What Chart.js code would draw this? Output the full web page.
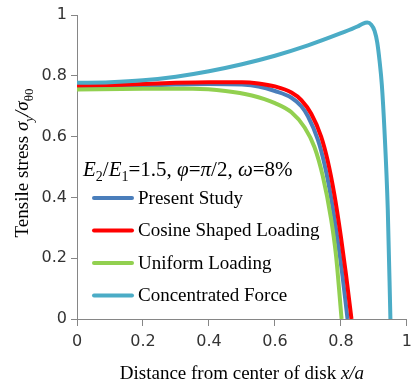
<!DOCTYPE html>
<html lang="en">
<head>
<meta charset="UTF-8" />
<title>Tensile stress vs distance</title>
<style>
  *{margin:0;padding:0;box-sizing:border-box;}
  body{background:#fff;width:418px;height:387px;overflow:hidden;}
  #wrap{position:relative;width:418px;height:387px;}
</style>
</head>
<body>
<div id="wrap"><canvas id="chart"></canvas></div>
<script src="https://cdn.jsdelivr.net/npm/chart.js@4.4.1/dist/chart.umd.min.js"></script>
<script>
/* ---- data ---- */
const seriesLabels = ['Present Study', 'Cosine Shaped Loading', 'Uniform Loading', 'Concentrated Force'];
const seriesColors = ['#4A7EBB', '#FF0000', '#92D050', '#4BACC6'];

const presentX = [0, 0.1, 0.2, 0.3, 0.4, 0.5, 0.55, 0.6, 0.65, 0.68, 0.7, 0.73, 0.75, 0.77, 0.79, 0.805, 0.82];
const presentY = [0.763, 0.765, 0.768, 0.771, 0.773, 0.771, 0.765, 0.75, 0.728, 0.7, 0.667, 0.59, 0.51, 0.4, 0.26, 0.14, 0];

const cosineX = [0, 0.1, 0.2, 0.3, 0.4, 0.5, 0.55, 0.6, 0.65, 0.68, 0.71, 0.74, 0.76, 0.78, 0.8, 0.815, 0.832];
const cosineY = [0.767, 0.77, 0.773, 0.777, 0.779, 0.779, 0.775, 0.765, 0.745, 0.72, 0.675, 0.6, 0.52, 0.41, 0.27, 0.15, 0];

const uniformX = [0, 0.2, 0.35, 0.45, 0.53, 0.6, 0.65, 0.69, 0.72, 0.745, 0.77, 0.785, 0.802];
const uniformY = [0.755, 0.757, 0.757, 0.75, 0.735, 0.71, 0.68, 0.63, 0.565, 0.47, 0.33, 0.21, 0];

const concX = [0, 0.1, 0.2, 0.3, 0.4, 0.5, 0.6, 0.7, 0.8, 0.85, 0.867, 0.88, 0.892, 0.902, 0.91, 0.917, 0.924, 0.932, 0.942, 0.95];
const concY = [0.777, 0.779, 0.785, 0.797, 0.815, 0.838, 0.866, 0.9, 0.94, 0.962, 0.972, 0.975, 0.968, 0.948, 0.91, 0.85, 0.77, 0.62, 0.36, 0];

const xTicks = [0, 0.2, 0.4, 0.6, 0.8, 1];
const yTicks = [0, 0.2, 0.4, 0.6, 0.8, 1];

const pts = (xs, ys) => xs.map((x, i) => ({x, y: ys[i]}));
const allX = [presentX, cosineX, uniformX, concX];
const allY = [presentY, cosineY, uniformY, concY];
const drawOrder = [3, 2, 1, 0]; // later series on top, like the original

const datasets = seriesLabels.map((label, i) => ({
  label,
  data: pts(allX[i], allY[i]),
  borderColor: seriesColors[i],
  backgroundColor: seriesColors[i],
  borderWidth: 4,
  pointRadius: 0,
  cubicInterpolationMode: 'monotone',
  order: drawOrder[i]
}));

/* ---- drawing helpers for mixed italic / subscript text ---- */
const SERIF = 'px "Liberation Serif", "Times New Roman", serif';
function setRunFont(ctx, r, size) {
  const fs = r.sub ? Math.round(size * 0.68) : size;
  ctx.font = (r.it ? 'italic ' : '') + fs + SERIF;
}
function drawRuns(ctx, runs, x, y, size) {
  let cx = x;
  runs.forEach(r => {
    setRunFont(ctx, r, size);
    ctx.fillText(r.t, cx, y + (r.sub ? size * 0.25 : 0));
    cx += ctx.measureText(r.t).width;
  });
  return cx - x;
}
function runsWidth(ctx, runs, size) {
  let w = 0;
  runs.forEach(r => { setRunFont(ctx, r, size); w += ctx.measureText(r.t).width; });
  return w;
}

const yTitleRuns = [
  {t: 'Tensile stress '}, {t: 'σ', it: 1}, {t: 'y', it: 1, sub: 1},
  {t: '/', it: 1}, {t: 'σ', it: 1}, {t: 'θ0', sub: 1}
];
const xTitleRuns = [{t: 'Distance from center of disk '}, {t: 'x/a', it: 1}];
const legendTitleRuns = [
  {t: 'E', it: 1}, {t: '2', sub: 1}, {t: '/'}, {t: 'E', it: 1}, {t: '1', sub: 1},
  {t: '=1.5, '}, {t: 'φ', it: 1}, {t: '='}, {t: 'π', it: 1}, {t: '/2, '},
  {t: 'ω', it: 1}, {t: '=8%'}
];

const extras = {
  id: 'extras',
  afterDraw(chart) {
    const ctx = chart.ctx;
    const area = chart.chartArea;
    ctx.save();
    ctx.fillStyle = '#000';
    ctx.textBaseline = 'alphabetic';
    ctx.textAlign = 'left';

    // x axis title
    const xw = runsWidth(ctx, xTitleRuns, 19);
    drawRuns(ctx, xTitleRuns, (area.left + area.right) / 2 - xw / 2, 379, 19);

    // y axis title, rotated
    const yw = runsWidth(ctx, yTitleRuns, 19);
    ctx.save();
    ctx.translate(28, (area.top + area.bottom) / 2 - 4 + yw / 2);
    ctx.rotate(-Math.PI / 2);
    drawRuns(ctx, yTitleRuns, 0, 0, 19);
    ctx.restore();

    // legend inside plot
    drawRuns(ctx, legendTitleRuns, 83, 176, 21);
    ctx.font = '19' + SERIF;
    ctx.textBaseline = 'middle';
    chart.data.datasets.forEach((ds, i) => {
      const y = 198 + i * 32.5;
      ctx.strokeStyle = ds.borderColor;
      ctx.lineWidth = 4;
      ctx.lineCap = 'round';
      ctx.beginPath();
      ctx.moveTo(94, y);
      ctx.lineTo(132, y);
      ctx.stroke();
      ctx.fillStyle = '#000';
      ctx.fillText(ds.label, 138, y + 1);
    });
    ctx.restore();
  }
};

const axisColor = '#868686';
const tickFont = {family: '"DejaVu Sans", Verdana, sans-serif', size: 16};

new Chart(document.getElementById('chart'), {
  type: 'line',
  data: {datasets},
  options: {
    responsive: true,
    maintainAspectRatio: false,
    animation: false,
    layout: {padding: {top: 15, right: 7, left: 0, bottom: 0}},
    plugins: {legend: {display: false}, tooltip: {enabled: false}},
    scales: {
      x: {
        type: 'linear',
        min: 0, max: 1,
        afterBuildTicks: s => { s.ticks = xTicks.map(v => ({value: v})); },
        afterFit: s => { s.height = 68; },
        grid: {drawOnChartArea: false, drawTicks: true, tickLength: 7, color: axisColor},
        border: {color: axisColor, width: 1},
        ticks: {font: tickFont, color: '#333', padding: 6, maxRotation: 0, callback: v => String(v)}
      },
      y: {
        min: 0, max: 1,
        afterBuildTicks: s => { s.ticks = yTicks.map(v => ({value: v})); },
        afterFit: s => { s.width = 77; },
        grid: {drawOnChartArea: false, drawTicks: true, tickLength: 6, color: axisColor},
        border: {color: axisColor, width: 1},
        ticks: {font: tickFont, color: '#333', padding: 4, callback: v => String(v)}
      }
    }
  },
  plugins: [extras]
});
</script>
</body>
</html>
